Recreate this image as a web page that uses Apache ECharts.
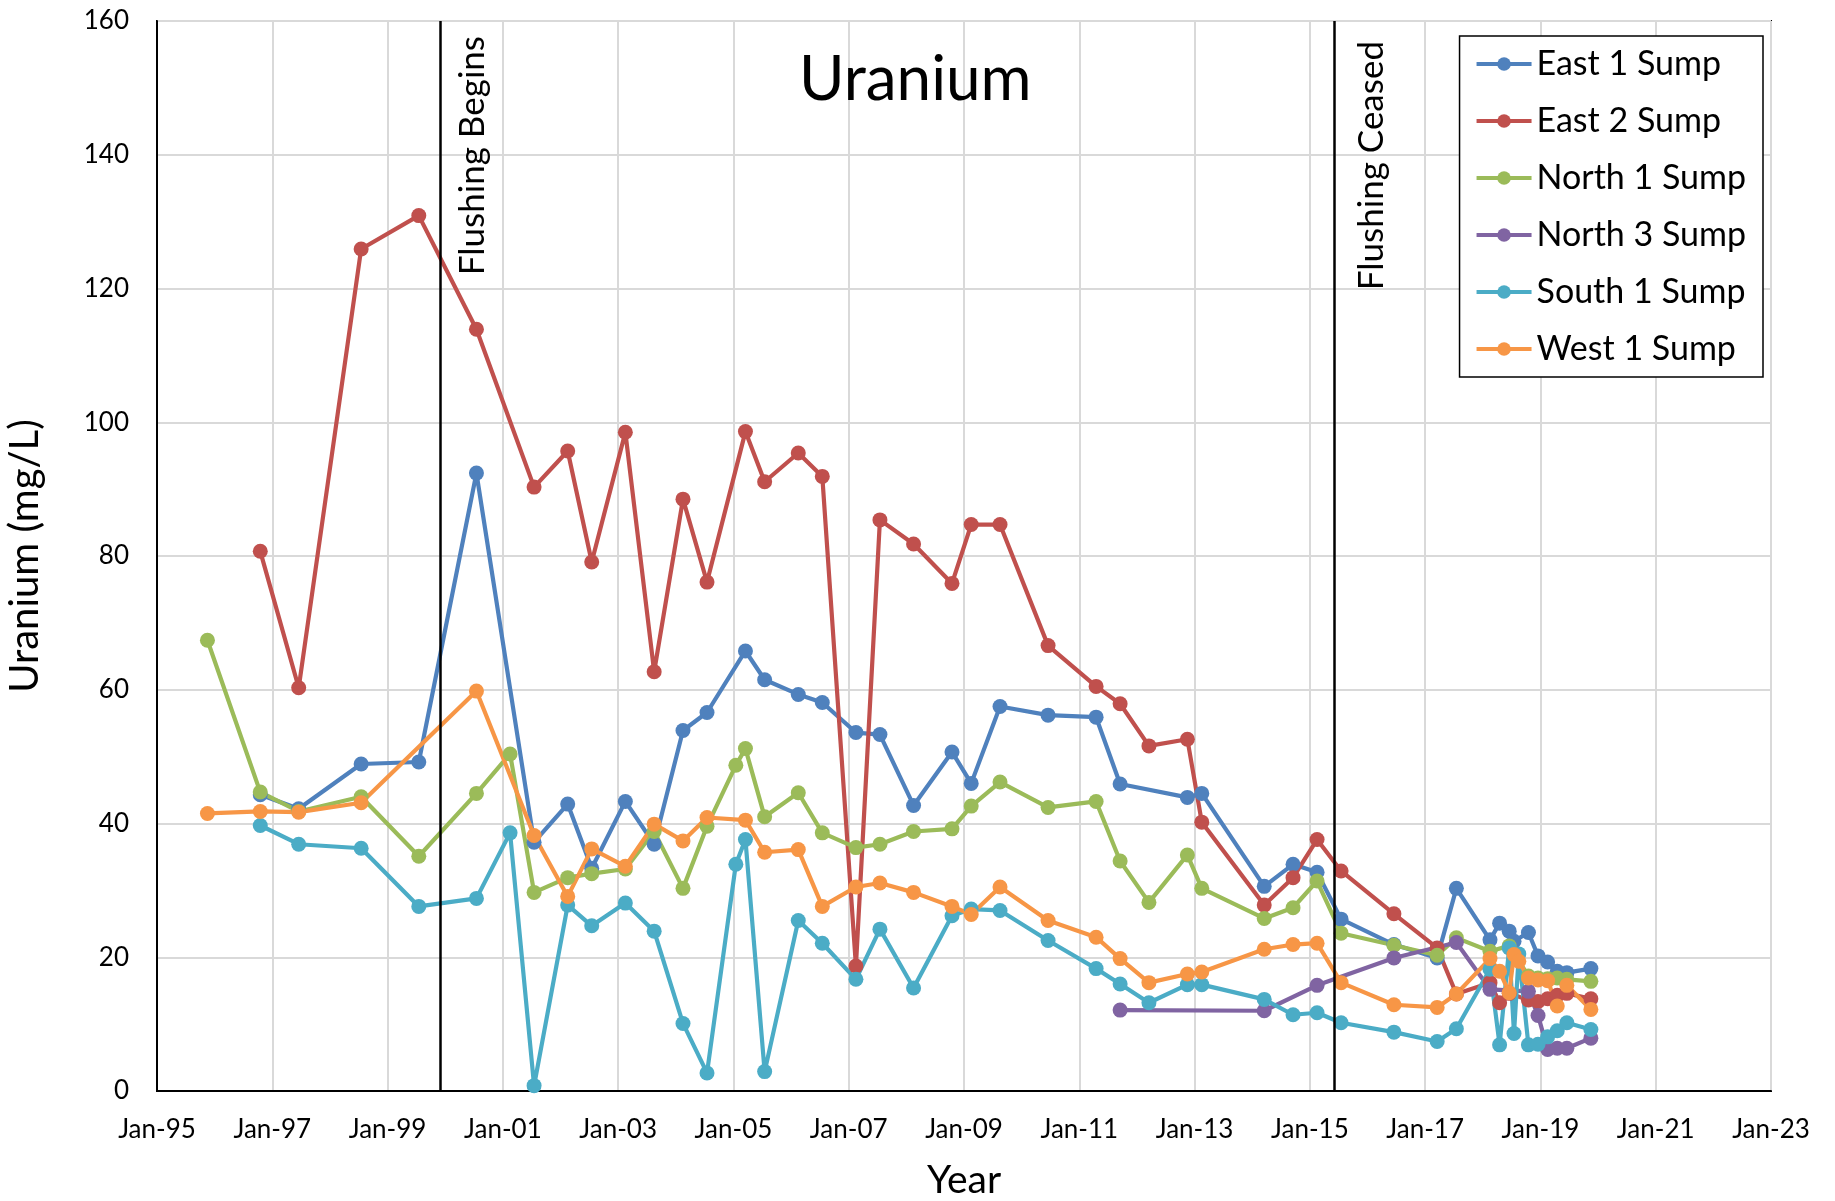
<!DOCTYPE html>
<html>
<head>
<meta charset="utf-8">
<script src="https://cdn.jsdelivr.net/npm/echarts@6/dist/echarts.min.js"></script>
<style>
  html, body { margin: 0; padding: 0; background: #fff; }
  #chart { width: 1835px; height: 1201px; }
</style>
</head>
<body>
<div id="chart"></div>
<script>
// sample dates (YYYY-MM) and uranium values (mg/L) per sump
var east1Dates = ['1996-10','1997-06','1998-07','1999-07','2000-07','2001-07','2002-02','2002-07','2003-02','2003-08',
  '2004-02','2004-07','2005-03','2005-07','2006-02','2006-07','2007-02','2007-07','2008-02','2008-10','2009-02','2009-08',
  '2010-06','2011-04','2011-09','2012-11','2013-02','2014-03','2014-09','2015-02','2015-07','2016-06','2017-03','2017-07',
  '2018-02','2018-04','2018-06','2018-07','2018-10','2018-12','2019-02','2019-04','2019-06','2019-11'];
var east1 = [44.3,42.2,48.9,49.2,92.4,37.2,42.9,33.3,43.3,36.9,
  53.9,56.6,65.8,61.5,59.3,58.1,53.6,53.3,42.7,50.7,46.0,57.5,
  56.2,55.9,45.9,43.9,44.5,30.6,33.9,32.7,25.7,21.9,19.9,30.3,
  22.6,25.1,23.9,22.4,23.7,20.2,19.3,17.9,17.7,18.3];

var east2Dates = ['1996-10','1997-06','1998-07','1999-07','2000-07','2001-07','2002-02','2002-07','2003-02','2003-08',
  '2004-02','2004-07','2005-03','2005-07','2006-02','2006-07','2007-02','2007-07','2008-02','2008-10','2009-02','2009-08',
  '2010-06','2011-04','2011-09','2012-03','2012-11','2013-02','2014-03','2014-09','2015-02','2015-07','2016-06','2017-03',
  '2017-07','2018-02','2018-04','2018-06','2018-10','2018-12','2019-02','2019-04','2019-06','2019-11'];
var east2 = [80.7,60.3,125.9,130.9,113.9,90.3,95.7,79.1,98.5,62.7,
  88.5,76.1,98.6,91.1,95.4,91.9,18.7,85.4,81.8,75.9,84.7,84.7,
  66.6,60.5,57.9,51.6,52.6,40.2,27.8,31.9,37.6,32.9,26.5,21.4,
  14.5,16.2,13.2,14.6,13.6,13.4,13.8,14.3,14.6,13.8];

var north1Dates = ['1995-11','1996-10','1997-06','1998-07','1999-07','2000-07','2001-02','2001-07','2002-02','2002-07',
  '2003-02','2003-08','2004-02','2004-07','2005-01','2005-03','2005-07','2006-02','2006-07','2007-02','2007-07','2008-02',
  '2008-10','2009-02','2009-08','2010-06','2011-04','2011-09','2012-03','2012-11','2013-02','2014-03','2014-09','2015-02',
  '2015-07','2016-06','2017-03','2017-07','2018-02','2018-06','2018-10','2018-12','2019-02','2019-04','2019-06','2019-11'];
var north1 = [67.4,44.7,41.8,44.0,35.1,44.5,50.4,29.7,31.9,32.5,
  33.2,38.8,30.3,39.6,48.7,51.2,41.0,44.6,38.6,36.4,36.9,38.8,
  39.2,42.6,46.2,42.4,43.3,34.4,28.2,35.3,30.3,25.8,27.4,31.4,
  23.6,21.8,20.3,22.9,20.9,21.7,17.2,16.9,16.8,16.9,16.7,16.4];

var north3Dates = ['2011-09','2014-03','2015-02','2016-06','2017-07','2018-02','2018-10','2018-12','2019-02','2019-04','2019-06','2019-11'];
var north3 = [12.1,12.0,15.8,19.9,22.2,15.2,14.9,11.3,6.2,6.4,6.4,7.9];

var south1Dates = ['1996-10','1997-06','1998-07','1999-07','2000-07','2001-02','2001-07','2002-02','2002-07','2003-02',
  '2003-08','2004-02','2004-07','2005-01','2005-03','2005-07','2006-02','2006-07','2007-02','2007-07','2008-02','2008-10',
  '2009-02','2009-08','2010-06','2011-04','2011-09','2012-03','2012-11','2013-02','2014-03','2014-09','2015-02','2015-07',
  '2016-06','2017-03','2017-07','2018-02','2018-04','2018-06','2018-07','2018-08','2018-10','2018-12','2019-02','2019-04',
  '2019-06','2019-11'];
var south1 = [39.7,36.9,36.3,27.6,28.8,38.6,0.8,27.8,24.7,28.1,
  23.9,10.1,2.7,33.9,37.6,2.9,25.5,22.1,16.7,24.2,15.4,26.2,
  27.2,27.0,22.5,18.3,16.0,13.2,15.9,15.9,13.7,11.4,11.7,10.2,
  8.8,7.4,9.3,18.2,6.9,21.4,8.6,20.5,6.9,7.0,8.1,9.0,
  10.2,9.2];

var west1Dates = ['1995-11','1996-10','1997-06','1998-07','2000-07','2001-07','2002-02','2002-07','2003-02','2003-08',
  '2004-02','2004-07','2005-03','2005-07','2006-02','2006-07','2007-02','2007-07','2008-02','2008-10','2009-02','2009-08',
  '2010-06','2011-04','2011-09','2012-03','2012-11','2013-02','2014-03','2014-09','2015-02','2015-07','2016-06','2017-03',
  '2017-07','2018-02','2018-04','2018-06','2018-07','2018-08','2018-10','2018-12','2019-02','2019-04','2019-06','2019-11'];
var west1 = [41.5,41.8,41.7,43.1,59.8,38.2,29.1,36.2,33.6,39.9,
  37.4,40.9,40.5,35.7,36.1,27.6,30.5,31.1,29.7,27.6,26.4,30.5,
  25.5,23.0,19.8,16.2,17.5,17.8,21.2,21.9,22.1,16.2,12.9,12.5,
  14.5,19.8,17.9,14.7,20.4,19.4,16.9,16.6,16.5,12.7,15.8,12.2];

var flushBegin = '1999-12-01';
var flushEnd = '2015-06-05';

var BASE_YEAR = 1995;
var FONT = 'Lato';

// years since Jan-95 (mid month when no day given)
function toX(s) {
  var p = s.split('-');
  var day = p[2] ? (+p[2] - 1) / 30 : 0.5;
  return (+p[0] - BASE_YEAR) + (+p[1] - 1 + day) / 12;
}

function pairs(dates, vals) {
  var out = [];
  for (var i = 0; i < dates.length; i++) {
    out.push([toX(dates[i]), vals[i]]);
  }
  return out;
}

function mkSeries(name, color, dates, vals) {
  return {
    name: name,
    type: 'line',
    data: pairs(dates, vals),
    symbol: 'circle',
    symbolSize: 15,
    color: color,
    lineStyle: { width: 4.2, color: color },
    itemStyle: { color: color },
    emphasis: { disabled: true }
  };
}

var chart = echarts.init(document.getElementById('chart'));

var series = [
  mkSeries('East 1 Sump', '#4f81bd', east1Dates, east1),
  mkSeries('East 2 Sump', '#c0504d', east2Dates, east2),
  mkSeries('North 1 Sump', '#9bbb59', north1Dates, north1),
  mkSeries('North 3 Sump', '#8064a2', north3Dates, north3),
  mkSeries('South 1 Sump', '#4bacc6', south1Dates, south1),
  mkSeries('West 1 Sump', '#f79646', west1Dates, west1)
];

series[0].markLine = {
  silent: true,
  symbol: 'none',
  animation: false,
  lineStyle: { color: '#000', width: 2.5, type: 'solid' },
  label: {
    show: true,
    position: 'insideEndBottom',
    formatter: '{b}',
    color: '#000',
    fontFamily: FONT,
    fontSize: 35,
    distance: 15
  },
  data: [
    { name: 'Flushing Begins', xAxis: toX(flushBegin) },
    { name: 'Flushing Ceased', xAxis: toX(flushEnd), label: { distance: 20 } }
  ]
};

chart.setOption({
  animation: false,
  backgroundColor: '#fff',
  textStyle: { fontFamily: FONT },
  title: {
    text: 'Uranium',
    left: 794,
    top: 44,
    textStyle: { fontFamily: FONT, fontSize: 62, fontWeight: 'normal', color: '#000' }
  },
  legend: {
    orient: 'vertical',
    top: 36,
    right: 72,
    itemWidth: 55,
    itemHeight: 17,
    itemGap: 17,
    padding: [8, 17, 8, 15],
    borderColor: '#000',
    borderWidth: 1.5,
    backgroundColor: '#fff',
    lineStyle: { width: 4 },
    textStyle: { fontFamily: FONT, fontSize: 34, lineHeight: 40, color: '#000' },
    data: ['East 1 Sump', 'East 2 Sump', 'North 1 Sump', 'North 3 Sump', 'South 1 Sump', 'West 1 Sump']
  },
  grid: {
    left: 157,
    right: 64,
    top: 21,
    bottom: 110,
    show: true,
    borderColor: '#000',
    borderWidth: 2,
    containLabel: false,
    outerBoundsMode: 'none'
  },
  xAxis: {
    type: 'value',
    min: 0,
    max: 28,
    interval: 2,
    name: 'Year',
    nameLocation: 'middle',
    nameGap: 70,
    nameTextStyle: { fontFamily: FONT, fontSize: 39, color: '#000' },
    axisLine: { show: true, onZero: false, lineStyle: { color: '#000', width: 2 } },
    axisTick: { show: false },
    axisLabel: {
      margin: 26,
      fontFamily: FONT,
      fontSize: 26,
      color: '#000',
      formatter: function (v) { return 'Jan-' + String(BASE_YEAR + v).slice(2); }
    },
    splitLine: { show: true, lineStyle: { color: '#d9d9d9', width: 2 } }
  },
  yAxis: {
    type: 'value',
    min: 0,
    max: 160,
    interval: 20,
    name: 'Uranium (mg/L)',
    nameLocation: 'middle',
    nameGap: 112,
    nameTextStyle: { fontFamily: FONT, fontSize: 40, color: '#000' },
    axisLine: { show: true, lineStyle: { color: '#000', width: 2 } },
    axisTick: { show: false },
    axisLabel: { margin: 28, fontFamily: FONT, fontSize: 26, color: '#000' },
    splitLine: { show: true, lineStyle: { color: '#d9d9d9', width: 2 } }
  },
  series: series
});
</script>
</body>
</html>
